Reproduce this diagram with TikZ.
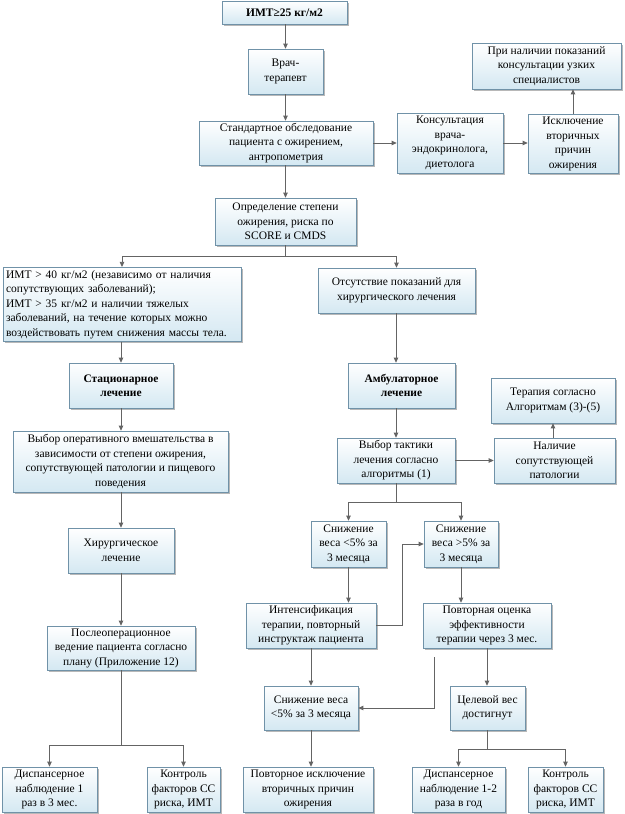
\documentclass[tikz,border=0pt]{standalone}
\usepackage{fontspec}
\setmainfont{Liberation Serif}
\usetikzlibrary{arrows.meta,shadows}
\definecolor{boxline}{RGB}{112,146,168}
\definecolor{boxfill}{RGB}{212,232,242}
\definecolor{conn}{RGB}{100,100,100}
\begin{document}
\begin{tikzpicture}[x=1pt,y=-1pt,
  box/.style={draw=boxline, line width=0.7pt, top color=white, bottom color=boxfill,
    drop shadow={shadow xshift=1.6pt, shadow yshift=-1.6pt, fill=black, opacity=0.28},
    align=center, inner sep=1pt, font=\fontsize{11.5}{14.5}\selectfont},
  ln/.style={draw=conn, line width=0.8pt},
  arr/.style={ln, -{Triangle[width=4.5pt,length=5pt]}}
]
\useasboundingbox (0,0) rectangle (624,814);
\fill[white] (0,0) rectangle (624,814);

% left/top column
\node[box, minimum width=125pt, minimum height=23pt] (n1) at (284.5,12.5) {\textbf{ИМТ≥25 кг/м2}};
\node[box, minimum width=75pt, minimum height=45pt] (n2) at (285.5,71.5) {Врач-\\терапевт};
\node[box, minimum width=174pt, minimum height=44pt] (n3) at (286,143) {Стандартное обследование\\пациента с ожирением,\\антропометрия};
\node[box, minimum width=141pt, minimum height=47pt] (n4) at (285.5,221.5) {Определение степени\\ожирения, риска по\\SCORE и CMDS};
\node[box, minimum width=106pt, minimum height=60pt] (n5) at (450,143) {Консультация\\врача-\\эндокринолога,\\диетолога};
\node[box, minimum width=90pt, minimum height=59pt] (n6) at (573,144) {Исключение\\вторичных\\причин\\ожирения};
\node[box, minimum width=149pt, minimum height=46pt] (n7) at (546.5,66) {При наличии показаний\\консультации узких\\специалистов};

\node[box, minimum height=73pt, text width=232pt, inner sep=3pt, align=left] (n8) at (122,304.5) {ИМТ > 40 кг/м2 (независимо от наличия\\сопутствующих заболеваний);\\ИМТ > 35 кг/м2 и наличии тяжелых\\заболеваний, на течение которых можно\\воздействовать путем снижения массы тела.};
\node[box, minimum width=104pt, minimum height=45pt] (n9) at (121,385.5) {\textbf{Стационарное}\\\textbf{лечение}};
\node[box, minimum width=215pt, minimum height=61pt] (n10) at (120.5,461.5) {Выбор оперативного вмешательства в\\зависимости от степени ожирения,\\сопутствующей патологии и пищевого\\поведения};
\node[box, minimum width=106pt, minimum height=45pt] (n11) at (121,550.5) {Хирургическое\\лечение};
\node[box, minimum width=148pt, minimum height=44pt] (n12) at (121,648) {Послеоперационное\\ведение пациента согласно\\плану (Приложение 12)};
\node[box, minimum width=95pt, minimum height=45pt] (n13) at (49.5,789.5) {Диспансерное\\наблюдение 1\\раз в 3 мес.};
\node[box, minimum width=73pt, minimum height=45pt] (n14) at (183.5,789.5) {Контроль\\факторов СС\\риска, ИМТ};

% right column
\node[box, minimum width=157pt, minimum height=45pt] (n15) at (396.5,290.5) {Отсутствие показаний для\\хирургического лечения};
\node[box, minimum width=107pt, minimum height=45pt] (n16) at (401.5,385.5) {\textbf{Амбулаторное}\\\textbf{лечение}};
\node[box, minimum width=124pt, minimum height=45pt] (n17) at (553,400.5) {Терапия согласно\\Алгоритмам (3)-(5)};
\node[box, minimum width=118pt, minimum height=45pt] (n18) at (396,460.5) {Выбор тактики\\лечения согласно\\алгоритмы (1)};
\node[box, minimum width=121pt, minimum height=45pt] (n19) at (554.5,460.5) {Наличие\\сопутствующей\\патологии};
\node[box, minimum width=75pt, minimum height=46pt] (n20) at (348.5,544) {Снижение\\веса <5\% за\\3 месяца};
\node[box, minimum width=74pt, minimum height=46pt] (n21) at (461,544) {Снижение\\веса >5\% за\\3 месяца};
\node[box, minimum width=130pt, minimum height=45pt] (n22) at (311,625.5) {Интенсификация\\терапии, повторный\\инструктаж пациента};
\node[box, minimum width=128pt, minimum height=45pt] (n23) at (487,625.5) {Повторная оценка\\эффективности\\терапии через 3 мес.};
\node[box, minimum width=94pt, minimum height=44pt] (n24) at (311,708) {Снижение веса\\<5\% за 3 месяца};
\node[box, minimum width=75pt, minimum height=44pt] (n25) at (487.5,708) {Целевой вес\\достигнут};
\node[box, minimum width=130pt, minimum height=45pt] (n26) at (308,789.5) {Повторное исключение\\вторичных причин\\ожирения};
\node[box, minimum width=93pt, minimum height=45pt] (n27) at (458.5,789.5) {Диспансерное\\наблюдение 1-2\\раза в год};
\node[box, minimum width=75pt, minimum height=45pt] (n28) at (565.5,789.5) {Контроль\\факторов СС\\риска, ИМТ};

% junction coordinates
\coordinate (s1) at (285.5,256);
\coordinate (s2) at (121,745);
\coordinate (s3) at (396,502);
\coordinate (s4) at (487.5,749);
\coordinate (f1) at (434,657);

% connectors
\draw[arr] (n1.south -| n2.north) -- (n2.north);
\draw[arr] (n2.south) -- (n2.south |- n3.north);
\draw[arr] (n2.south |- n3.south) -- (n2.south |- n4.north);
\draw[arr] (n3.east) -- (n5.west);
\draw[arr] (n5.east) -- (n6.west |- n5.east);
\draw[arr] (n6.north) -- (n6.north |- n7.south);

\draw[ln] (n4.south) -- (s1);
\draw[arr] (s1) -| (n8.north);
\draw[arr] (s1) -| (n15.north);

\draw[arr] (n9.north |- n8.south) -- (n9.north);
\draw[arr] (n9.south) -- (n9.south |- n10.north);
\draw[arr] (n9.south |- n10.south) -- (n11.north);
\draw[arr] (n11.south) -- (n12.north);
\draw[ln] (n12.south) -- (s2);
\draw[arr] (s2) -| (n13.north);
\draw[arr] (s2) -| (n14.north);

\draw[arr] (n18.north |- n15.south) -- (n18.north |- n16.north);
\draw[arr] (n18.north |- n16.south) -- (n18.north);
\draw[arr] (n18.east) -- (n19.west);
\draw[arr] (n17.south |- n19.north) -- (n17.south);
\draw[ln] (n18.south) -- (s3);
\draw[arr] (s3) -| (n20.north);
\draw[arr] (s3) -| (n21.north);
\draw[arr] (n20.south) -- (n20.south |- n22.north);
\draw[arr] (n21.south) -- (n21.south |- n23.north);
\draw[arr] (n22.east) -- ++(26,0) |- (n21.west);
\draw[arr] (n22.south) -- (n24.north);
\draw[arr] (f1) |- (n24.east);
\draw[arr] (n23.south) -- (n23.south |- n25.north);
\draw[arr] (n24.south) -- (n24.south |- n26.north);
\draw[ln] (n25.south) -- (s4);
\draw[arr] (s4) -| (n27.north);
\draw[arr] (s4) -| (n28.north);
\end{tikzpicture}
\end{document}
